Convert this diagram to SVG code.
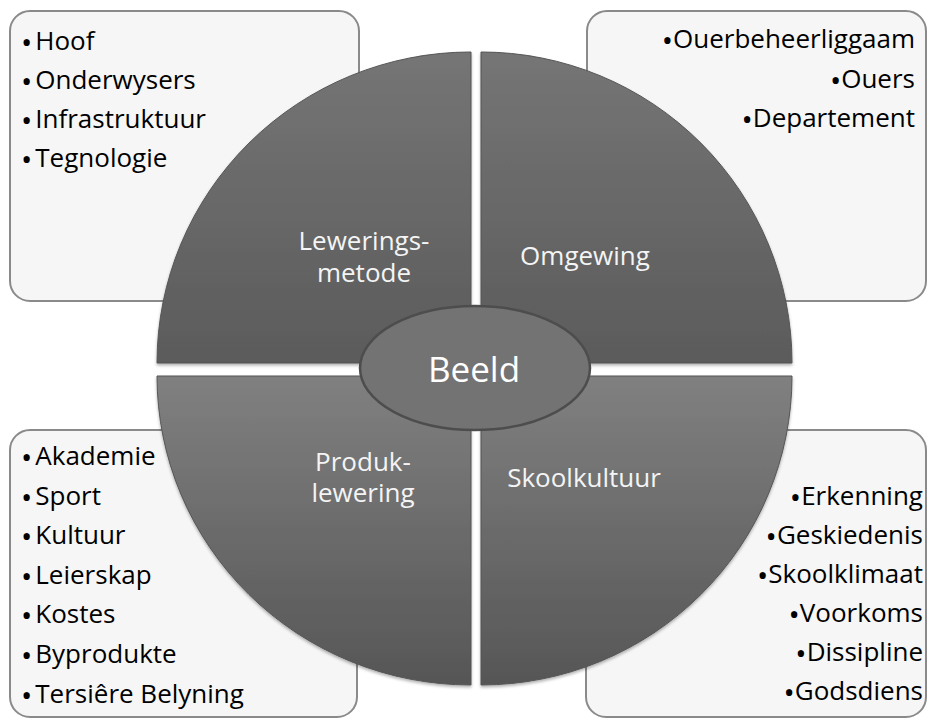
<svg xmlns="http://www.w3.org/2000/svg" width="929" height="721" viewBox="0 0 929 721">
  <style>
    .box { fill: #f6f6f6; stroke: #8a8a8a; stroke-width: 2; }
    .item { font-family: "Open Sans", "Liberation Sans", sans-serif; font-size: 26px; fill: #000000; }
    .b { font-size: 30px; }
    .end { text-anchor: end; }
    .lbl { font-family: "Open Sans", "Liberation Sans", sans-serif; font-size: 26px; fill: #f4f4f4; text-anchor: middle; }
    .center { font-family: "Open Sans", "Liberation Sans", sans-serif; font-size: 35px; fill: #ffffff; text-anchor: middle; }
    .quadU { fill: url(#gU); stroke: #555555; stroke-width: 1; filter: url(#sh); }
    .quadL { fill: url(#gL); stroke: #555555; stroke-width: 1; filter: url(#sh); }
  </style>
  <defs>
    <linearGradient id="gU" x1="0" y1="0" x2="0" y2="1">
      <stop offset="0" stop-color="#757575"/>
      <stop offset="1" stop-color="#5b5b5b"/>
    </linearGradient>
    <linearGradient id="gL" x1="0" y1="0" x2="0" y2="1">
      <stop offset="0" stop-color="#808080"/>
      <stop offset="1" stop-color="#565656"/>
    </linearGradient>
    <filter id="sh" x="-5%" y="-5%" width="110%" height="110%">
      <feDropShadow dx="0" dy="2" stdDeviation="1.5" flood-color="#000000" flood-opacity="0.3"/>
    </filter>
  </defs>
  <rect width="929" height="721" fill="#ffffff"/>

  <g id="box-tl">
    <rect class="box" x="10" y="11" width="349" height="290" rx="20"/>
    <text class="item" x="21" y="50"><tspan class="b" dy="3">•</tspan><tspan dx="3" dy="-3">Hoof</tspan></text>
    <text class="item" x="21" y="89"><tspan class="b" dy="3">•</tspan><tspan dx="3" dy="-3">Onderwysers</tspan></text>
    <text class="item" x="21" y="128"><tspan class="b" dy="3">•</tspan><tspan dx="3" dy="-3">Infrastruktuur</tspan></text>
    <text class="item" x="21" y="167"><tspan class="b" dy="3">•</tspan><tspan dx="3" dy="-3">Tegnologie</tspan></text>
  </g>
  <g id="box-tr">
    <rect class="box" x="587" y="11" width="339" height="290" rx="20"/>
    <text class="item end" x="915" y="48"><tspan class="b" dy="3">•</tspan><tspan dy="-3">Ouerbeheerliggaam</tspan></text>
    <text class="item end" x="915" y="88"><tspan class="b" dy="3">•</tspan><tspan dy="-3">Ouers</tspan></text>
    <text class="item end" x="915" y="127"><tspan class="b" dy="3">•</tspan><tspan dy="-3">Departement</tspan></text>
  </g>
  <g id="box-bl">
    <rect class="box" x="10" y="430" width="347" height="287" rx="20"/>
    <text class="item" x="21" y="465"><tspan class="b" dy="3">•</tspan><tspan dx="3" dy="-3">Akademie</tspan></text>
    <text class="item" x="21" y="505"><tspan class="b" dy="3">•</tspan><tspan dx="3" dy="-3">Sport</tspan></text>
    <text class="item" x="21" y="544"><tspan class="b" dy="3">•</tspan><tspan dx="3" dy="-3">Kultuur</tspan></text>
    <text class="item" x="21" y="584"><tspan class="b" dy="3">•</tspan><tspan dx="3" dy="-3">Leierskap</tspan></text>
    <text class="item" x="21" y="623"><tspan class="b" dy="3">•</tspan><tspan dx="3" dy="-3">Kostes</tspan></text>
    <text class="item" x="21" y="663"><tspan class="b" dy="3">•</tspan><tspan dx="3" dy="-3">Byprodukte</tspan></text>
    <text class="item" x="21" y="703"><tspan class="b" dy="3">•</tspan><tspan dx="3" dy="-3">Tersiêre Belyning</tspan></text>
  </g>
  <g id="box-br">
    <rect class="box" x="586" y="430" width="340" height="287" rx="20"/>
    <text class="item end" x="923" y="505"><tspan class="b" dy="3">•</tspan><tspan dy="-3">Erkenning</tspan></text>
    <text class="item end" x="923" y="544"><tspan class="b" dy="3">•</tspan><tspan dy="-3">Geskiedenis</tspan></text>
    <text class="item end" x="923" y="583"><tspan class="b" dy="3">•</tspan><tspan dy="-3">Skoolklimaat</tspan></text>
    <text class="item end" x="923" y="622"><tspan class="b" dy="3">•</tspan><tspan dy="-3">Voorkoms</tspan></text>
    <text class="item end" x="923" y="661"><tspan class="b" dy="3">•</tspan><tspan dy="-3">Dissipline</tspan></text>
    <text class="item end" x="923" y="700"><tspan class="b" dy="3">•</tspan><tspan dy="-3">Godsdiens</tspan></text>
  </g>

  <g id="quad-tl">
    <path class="quadU" d="M471,363 L157,363 A314,311 0 0 1 471,52 Z"/>
    <text class="lbl" x="364" y="250">Lewerings-<tspan x="364" dy="32">metode</tspan></text>
  </g>
  <g id="quad-tr">
    <path class="quadU" d="M481,363 L481,52 A311,311 0 0 1 792,363 Z"/>
    <text class="lbl" x="585" y="265">Omgewing</text>
  </g>
  <g id="quad-bl">
    <path class="quadL" d="M471,376 L471,685 A314,309 0 0 1 157,376 Z"/>
    <text class="lbl" x="363" y="471">Produk-<tspan x="363" dy="31">lewering</tspan></text>
  </g>
  <g id="quad-br">
    <path class="quadL" d="M481,376 L792,376 A311,309 0 0 1 481,685 Z"/>
    <text class="lbl" x="584" y="487">Skoolkultuur</text>
  </g>

  <g id="center-beeld">
    <ellipse cx="475" cy="368" rx="115" ry="62" fill="#737373" stroke="#4d4d4d" stroke-width="2.5"/>
    <text class="center" x="474" y="382">Beeld</text>
  </g>

  <g id="connectors"/>
</svg>
